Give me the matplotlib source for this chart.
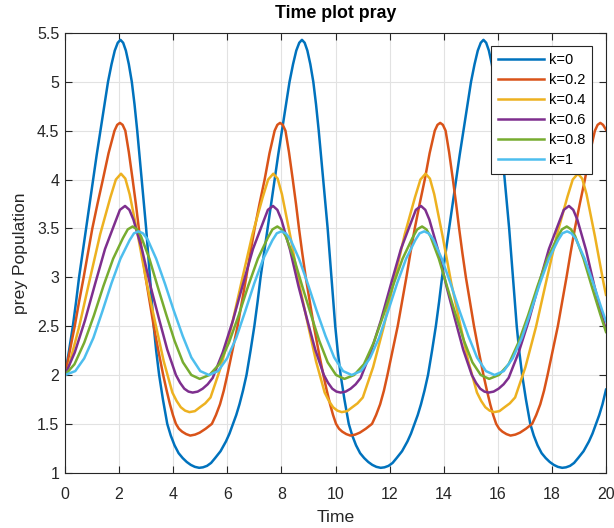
import matplotlib
matplotlib.use('Agg')
import matplotlib.pyplot as plt

plt.rcParams['font.family'] = ['Liberation Sans', 'DejaVu Sans']

# ---------------- data (time, prey) ----------------
labels = ['k=0', 'k=0.2', 'k=0.4', 'k=0.6', 'k=0.8', 'k=1']
colors = ['#0072BD', '#D95319', '#EDB120', '#7E2F8E', '#77AC30', '#4DBEEE']

pts_k0 = [
    (0, 2.0), (0.15, 2.25), (0.29, 2.5), (0.41, 2.75), (0.52, 3.0), (0.65, 3.25), (0.78, 3.5), (0.91, 3.75),
    (1.04, 4.0), (1.17, 4.25), (1.31, 4.5), (1.45, 4.75), (1.59, 5.0), (1.72, 5.18), (1.84, 5.32), (1.95, 5.40),
    (2.05, 5.43),
    (2.15, 5.40), (2.25, 5.32), (2.36, 5.18), (2.47, 5.0), (2.57, 4.77), (2.67, 4.5), (2.75, 4.26), (2.84, 4.0),
    (2.92, 3.75), (3.0, 3.5), (3.07, 3.25), (3.14, 3.0), (3.21, 2.75), (3.28, 2.5), (3.37, 2.25), (3.48, 2.0),
    (3.62, 1.75), (3.78, 1.5), (3.91, 1.38), (4.05, 1.28), (4.2, 1.2), (4.35, 1.15), (4.5, 1.11), (4.65, 1.08),
    (4.8, 1.06), (4.96, 1.05), (5.1, 1.055), (5.25, 1.07), (5.4, 1.1), (5.55, 1.15), (5.75, 1.22), (5.95, 1.32),
    (6.08, 1.4), (6.21, 1.5), (6.33, 1.59), (6.45, 1.7), (6.58, 1.84), (6.71, 2.0), (6.86, 2.25), (7.0, 2.5),
    (7.12, 2.75), (7.23, 3.0), (7.36, 3.25), (7.49, 3.5), (7.62, 3.75), (7.75, 4.0), (7.88, 4.25), (8.02, 4.5),
    (8.16, 4.75), (8.3, 5.0), (8.43, 5.18), (8.55, 5.32), (8.66, 5.40), (8.76, 5.43),
    (8.86, 5.40), (8.96, 5.32), (9.07, 5.18), (9.18, 5.0), (9.28, 4.77), (9.38, 4.5), (9.46, 4.26), (9.55, 4.0),
    (9.63, 3.75), (9.71, 3.5), (9.78, 3.25), (9.85, 3.0), (9.92, 2.75), (9.99, 2.5), (10.08, 2.25), (10.19, 2.0),
    (10.33, 1.75), (10.49, 1.5), (10.62, 1.38), (10.76, 1.28), (10.91, 1.2), (11.06, 1.15), (11.21, 1.11),
    (11.36, 1.08), (11.51, 1.06), (11.67, 1.05), (11.81, 1.055), (11.96, 1.07), (12.11, 1.1), (12.26, 1.15),
    (12.46, 1.22), (12.66, 1.32), (12.79, 1.4), (12.92, 1.5), (13.04, 1.59), (13.16, 1.7), (13.29, 1.84),
    (13.42, 2.0), (13.57, 2.25), (13.71, 2.5), (13.83, 2.75), (13.94, 3.0), (14.07, 3.25), (14.2, 3.5),
    (14.33, 3.75), (14.46, 4.0), (14.59, 4.25), (14.73, 4.5), (14.87, 4.75), (15.01, 5.0), (15.14, 5.18),
    (15.26, 5.32), (15.37, 5.40), (15.47, 5.43),
    (15.57, 5.40), (15.67, 5.32), (15.78, 5.18), (15.89, 5.0), (15.99, 4.77), (16.09, 4.5), (16.17, 4.26),
    (16.26, 4.0), (16.34, 3.75), (16.42, 3.5), (16.49, 3.25), (16.56, 3.0), (16.63, 2.75), (16.7, 2.5),
    (16.79, 2.25), (16.9, 2.0), (17.04, 1.75), (17.2, 1.5), (17.33, 1.38), (17.47, 1.28), (17.62, 1.2),
    (17.77, 1.15), (17.92, 1.11), (18.07, 1.08), (18.22, 1.06), (18.38, 1.05), (18.52, 1.055), (18.67, 1.07),
    (18.82, 1.1), (18.97, 1.15), (19.17, 1.22), (19.37, 1.32), (19.5, 1.4), (19.63, 1.5), (19.75, 1.59),
    (19.87, 1.7), (20.0, 1.85)]

pts_k02 = [
    (0, 2.0), (0.18, 2.25), (0.36, 2.5), (0.52, 2.75), (0.69, 3.0), (0.85, 3.25), (1.01, 3.5), (1.2, 3.75),
    (1.4, 4.0), (1.61, 4.27), (1.83, 4.5), (1.93, 4.56), (2.03, 4.58),
    (2.13, 4.56), (2.23, 4.5), (2.36, 4.28), (2.5, 4.0), (2.62, 3.75), (2.73, 3.5), (2.85, 3.25), (2.98, 3.0),
    (3.13, 2.75), (3.28, 2.5), (3.45, 2.25), (3.63, 2.0), (3.75, 1.85), (3.88, 1.7), (3.99, 1.59), (4.1, 1.5),
    (4.21, 1.45), (4.33, 1.42), (4.48, 1.395), (4.63, 1.38), (4.81, 1.39), (4.98, 1.41), (5.2, 1.45), (5.43, 1.5),
    (5.58, 1.59), (5.73, 1.7), (5.87, 1.84), (6.0, 2.0), (6.19, 2.25), (6.38, 2.5), (6.54, 2.75), (6.7, 3.0),
    (6.85, 3.25), (7.01, 3.5), (7.19, 3.75), (7.38, 4.0), (7.56, 4.27), (7.75, 4.5), (7.85, 4.56), (7.95, 4.58),
    (8.05, 4.56), (8.15, 4.5), (8.28, 4.28), (8.42, 4.0), (8.54, 3.75), (8.65, 3.5), (8.77, 3.25), (8.9, 3.0),
    (9.05, 2.75), (9.2, 2.5), (9.37, 2.25), (9.55, 2.0), (9.67, 1.85), (9.8, 1.7), (9.91, 1.59), (10.02, 1.5),
    (10.13, 1.45), (10.25, 1.42), (10.4, 1.395), (10.55, 1.38), (10.73, 1.39), (10.9, 1.41), (11.12, 1.45),
    (11.35, 1.5), (11.5, 1.59), (11.65, 1.7), (11.79, 1.84), (11.92, 2.0), (12.11, 2.25), (12.3, 2.5),
    (12.46, 2.75), (12.62, 3.0), (12.77, 3.25), (12.93, 3.5), (13.11, 3.75), (13.3, 4.0), (13.48, 4.27),
    (13.67, 4.5), (13.77, 4.56), (13.87, 4.58),
    (13.97, 4.56), (14.07, 4.5), (14.2, 4.28), (14.34, 4.0), (14.46, 3.75), (14.57, 3.5), (14.69, 3.25),
    (14.82, 3.0), (14.97, 2.75), (15.12, 2.5), (15.29, 2.25), (15.47, 2.0), (15.59, 1.85), (15.72, 1.7),
    (15.83, 1.59), (15.94, 1.5), (16.05, 1.45), (16.17, 1.42), (16.32, 1.395), (16.47, 1.38), (16.65, 1.39),
    (16.82, 1.41), (17.04, 1.45), (17.27, 1.5), (17.42, 1.59), (17.57, 1.7), (17.71, 1.84), (17.84, 2.0),
    (18.03, 2.25), (18.22, 2.5), (18.38, 2.75), (18.54, 3.0), (18.69, 3.25), (18.85, 3.5), (19.03, 3.75),
    (19.22, 4.0), (19.4, 4.27), (19.59, 4.5), (19.69, 4.56), (19.79, 4.58), (19.89, 4.56), (20.0, 4.51)]

pts_k04 = [
    (0, 2.0), (0.13, 2.08), (0.52, 2.49), (0.91, 2.97), (1.30, 3.44), (1.68, 3.82), (1.88, 4.0), (2.07, 4.06),
    (2.23, 4.01), (2.39, 3.85), (2.70, 3.42), (3.02, 2.94), (3.34, 2.53), (3.65, 2.14), (3.97, 1.82),
    (4.125, 1.735), (4.28, 1.67), (4.44, 1.635), (4.60, 1.62), (4.80, 1.63), (4.99, 1.67), (5.185, 1.71),
    (5.38, 1.77), (5.76, 2.08), (6.15, 2.49), (6.54, 2.97), (6.93, 3.44), (7.31, 3.82), (7.51, 4.0), (7.70, 4.06),
    (7.86, 4.01), (8.02, 3.85), (8.33, 3.42), (8.65, 2.94), (8.97, 2.53), (9.28, 2.14), (9.60, 1.82),
    (9.755, 1.735), (9.91, 1.67), (10.07, 1.635), (10.23, 1.62), (10.43, 1.63), (10.62, 1.67), (10.815, 1.71),
    (11.01, 1.77), (11.39, 2.08), (11.78, 2.49), (12.17, 2.97), (12.56, 3.44), (12.94, 3.82), (13.14, 4.0),
    (13.33, 4.06),
    (13.49, 4.01), (13.65, 3.85), (13.96, 3.42), (14.28, 2.94), (14.60, 2.53), (14.91, 2.14), (15.23, 1.82),
    (15.385, 1.735), (15.54, 1.67), (15.70, 1.635), (15.86, 1.62), (16.06, 1.63), (16.25, 1.67), (16.445, 1.71),
    (16.64, 1.77), (17.02, 2.08), (17.41, 2.49), (17.80, 2.97), (18.19, 3.44), (18.57, 3.82), (18.77, 4.0),
    (18.96, 4.06),
    (19.12, 4.01), (19.28, 3.85), (19.59, 3.42), (19.91, 2.94), (20.0, 2.82)]

pts_k06 = [
    (0, 2.0), (0.36, 2.23), (0.74, 2.56), (1.11, 2.93), (1.48, 3.29), (1.85, 3.56), (2.03, 3.69), (2.22, 3.73),
    (2.38, 3.69), (2.53, 3.59), (2.85, 3.28), (3.16, 2.91), (3.47, 2.58), (3.78, 2.26), (4.10, 2.0),
    (4.255, 1.92), (4.41, 1.86), (4.565, 1.83), (4.72, 1.82), (4.905, 1.83), (5.09, 1.86), (5.275, 1.905),
    (5.46, 1.97), (5.83, 2.23), (6.21, 2.56), (6.58, 2.93), (6.95, 3.29), (7.32, 3.56), (7.50, 3.69), (7.69, 3.73),
    (7.85, 3.69), (8.00, 3.59), (8.32, 3.28), (8.63, 2.91), (8.94, 2.58), (9.25, 2.26), (9.57, 2.0),
    (9.725, 1.92), (9.88, 1.86), (10.035, 1.83), (10.19, 1.82), (10.375, 1.83), (10.56, 1.86), (10.745, 1.905),
    (10.93, 1.97), (11.30, 2.23), (11.68, 2.56), (12.05, 2.93), (12.42, 3.29), (12.79, 3.56), (12.97, 3.69),
    (13.16, 3.73),
    (13.32, 3.69), (13.47, 3.59), (13.79, 3.28), (14.10, 2.91), (14.41, 2.58), (14.72, 2.26), (15.04, 2.0),
    (15.195, 1.92), (15.35, 1.86), (15.505, 1.83), (15.66, 1.82), (15.845, 1.83), (16.03, 1.86), (16.215, 1.905),
    (16.40, 1.97), (16.77, 2.23), (17.15, 2.56), (17.52, 2.93), (17.89, 3.29), (18.26, 3.56), (18.44, 3.69),
    (18.63, 3.73),
    (18.79, 3.69), (18.94, 3.59), (19.26, 3.28), (19.57, 2.91), (19.88, 2.58), (20.0, 2.46)]

pts_k08 = [
    (0, 2.0), (0.35, 2.11), (0.71, 2.33), (1.07, 2.61), (1.42, 2.91), (1.78, 3.19), (2.14, 3.40), (2.32, 3.49),
    (2.50, 3.52),
    (2.66, 3.49), (2.81, 3.42), (3.12, 3.19), (3.43, 2.90), (3.74, 2.62), (4.05, 2.35), (4.36, 2.13),
    (4.67, 2.0), (4.98, 1.96), (5.34, 2.0), (5.70, 2.11), (6.06, 2.33), (6.42, 2.61), (6.77, 2.91),
    (7.13, 3.19), (7.49, 3.40), (7.67, 3.49), (7.85, 3.52),
    (8.01, 3.49), (8.16, 3.42), (8.47, 3.19), (8.78, 2.90), (9.09, 2.62), (9.40, 2.35), (9.71, 2.13),
    (10.02, 2.0), (10.33, 1.96), (10.69, 2.0), (11.05, 2.11), (11.41, 2.33), (11.77, 2.61), (12.12, 2.91),
    (12.48, 3.19), (12.84, 3.40), (13.02, 3.49), (13.20, 3.52),
    (13.36, 3.49), (13.51, 3.42), (13.82, 3.19), (14.13, 2.90), (14.44, 2.62), (14.75, 2.35), (15.06, 2.13),
    (15.37, 2.0), (15.68, 1.96), (16.04, 2.0), (16.40, 2.11), (16.76, 2.33), (17.12, 2.61), (17.47, 2.91),
    (17.83, 3.19), (18.19, 3.40), (18.37, 3.49), (18.55, 3.52),
    (18.71, 3.49), (18.86, 3.42), (19.17, 3.19), (19.48, 2.90), (19.79, 2.62), (20.0, 2.44)]

pts_k1 = [
    (0, 2.0), (0.38, 2.04), (0.71, 2.17), (1.05, 2.38), (1.38, 2.65), (1.72, 2.94), (2.05, 3.19), (2.39, 3.38),
    (2.55, 3.45), (2.72, 3.47),
    (2.88, 3.45), (3.05, 3.39), (3.37, 3.19), (3.70, 2.93), (4.02, 2.66), (4.35, 2.40), (4.67, 2.18),
    (5.00, 2.04), (5.32, 2.0), (5.66, 2.04), (5.99, 2.17), (6.33, 2.38), (6.66, 2.65), (7.00, 2.94),
    (7.33, 3.19), (7.67, 3.38), (7.83, 3.45), (8.00, 3.47),
    (8.16, 3.45), (8.33, 3.39), (8.65, 3.19), (8.98, 2.93), (9.30, 2.66), (9.63, 2.40), (9.95, 2.18),
    (10.28, 2.04), (10.60, 2.0), (10.94, 2.04), (11.27, 2.17), (11.61, 2.38), (11.94, 2.65), (12.28, 2.94),
    (12.61, 3.19), (12.95, 3.38), (13.11, 3.45), (13.28, 3.47),
    (13.44, 3.45), (13.61, 3.39), (13.93, 3.19), (14.26, 2.93), (14.58, 2.66), (14.91, 2.40), (15.23, 2.18),
    (15.56, 2.04), (15.88, 2.0), (16.22, 2.04), (16.55, 2.17), (16.89, 2.38), (17.22, 2.65), (17.56, 2.94),
    (17.89, 3.19), (18.23, 3.38), (18.39, 3.45), (18.56, 3.47),
    (18.72, 3.45), (18.89, 3.39), (19.21, 3.19), (19.54, 2.93), (19.86, 2.66), (20.0, 2.55)]

x_ticks = [0, 2, 4, 6, 8, 10, 12, 14, 16, 18, 20]
y_ticks = [1, 1.5, 2, 2.5, 3, 3.5, 4, 4.5, 5, 5.5]
y_tick_labels = ['1', '1.5', '2', '2.5', '3', '3.5', '4', '4.5', '5', '5.5']

series = [pts_k0, pts_k02, pts_k04, pts_k06, pts_k08, pts_k1]

# ---------------- figure ----------------
W, H = 614, 528
fig = plt.figure(figsize=(W / 100, H / 100), dpi=100)
ax = fig.add_axes([65 / W, 1 - 472.7 / H, 541 / W, 439.7 / H])

for pts, c, lab in zip(series, colors, labels):
    t = [p[0] for p in pts]
    y = [p[1] for p in pts]
    ax.plot(t, y, color=c, lw=1.8, label=lab, solid_joinstyle='round')

ax.set_xlim(0, 20)
ax.set_ylim(1, 5.5)
ax.set_xticks(x_ticks)
ax.set_yticks(y_ticks)
ax.set_yticklabels(y_tick_labels)
ax.grid(True, color='#e2e2e2', lw=0.8)
ax.set_axisbelow(True)
ax.tick_params(direction='in', top=True, right=True, length=5, width=0.8,
               colors='#262626', labelsize=11.5)
ax.tick_params(axis='x', pad=10.5)
ax.tick_params(axis='y', pad=4)
for sp in ax.spines.values():
    sp.set_color('#262626')
    sp.set_linewidth(0.8)

ax.set_xlabel('Time', fontsize=12.6, color='#262626', va='center')
ax.xaxis.set_label_coords(0.5, -0.101)
ax.set_ylabel('prey Population', fontsize=12.6, color='#262626', va='center')
ax.yaxis.set_label_coords(-0.083, 0.5)
ax.text(0.5, (472.7 - 14) / 439.7, 'Time plot pray', transform=ax.transAxes,
        ha='center', va='center', fontsize=12.8, fontweight='bold', color='black')

leg = ax.legend(loc='upper right', bbox_to_anchor=(0.9736, 0.970), borderaxespad=0,
                fontsize=10.5, handlelength=3.2, handletextpad=0.3, labelspacing=0.42,
                borderpad=0.45, frameon=True, fancybox=False, edgecolor='#262626',
                framealpha=1)
leg.get_frame().set_linewidth(0.8)

fig.savefig('out.png', dpi=100)
